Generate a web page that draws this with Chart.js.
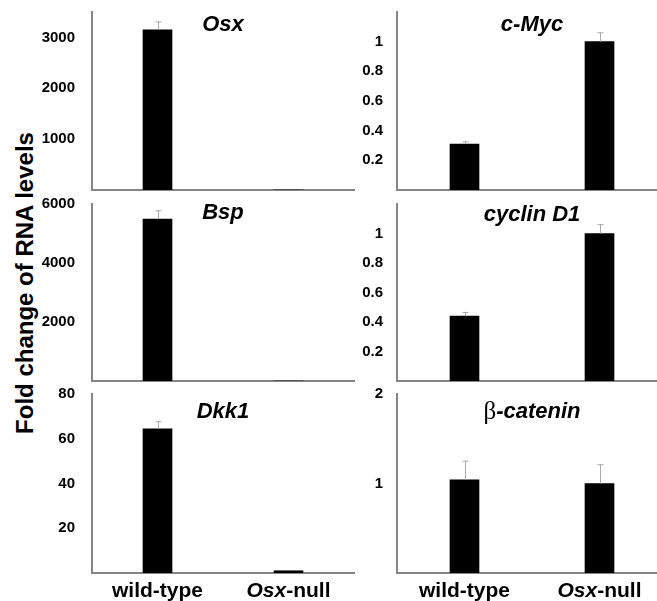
<!DOCTYPE html>
<html>
<head>
<meta charset="utf-8">
<script src="https://cdn.jsdelivr.net/npm/chart.js@4/dist/chart.umd.min.js"></script>
<style>
  html, body { margin: 0; padding: 0; background: #fff; overflow: hidden; }
  body { width: 657px; height: 601px; position: relative; }
  .panel { position: absolute; }
  #ytitle {
    position: absolute; left: 25px; top: 283px;
    transform: translate(-50%, -50%) rotate(-90deg);
    font: bold 24px "Liberation Sans", Arial, sans-serif;
    white-space: nowrap; color: #000;
  }
</style>
</head>
<body>
<div id="ytitle">Fold change of RNA levels</div>
<canvas id="c-osx" class="panel"></canvas>
<canvas id="c-cmyc" class="panel"></canvas>
<canvas id="c-bsp" class="panel"></canvas>
<canvas id="c-cyclin" class="panel"></canvas>
<canvas id="c-dkk1" class="panel"></canvas>
<canvas id="c-bcat" class="panel"></canvas>
<script>
// categories
const groups = ['wild-type', 'Osx-null'];

// values (fold change) and upper error bars
const osxValues = [3150, 1];
const osxErrors = [155, 0];
const bspValues = [5490, 1];
const bspErrors = [280, 0];
const dkk1Values = [64.4, 1];
const dkk1Errors = [3.2, 0];
const cMycValues = [0.31, 1.0];
const cMycErrors = [0.015, 0.06];
const cyclinValues = [0.44, 1.0];
const cyclinErrors = [0.025, 0.06];
const bCatValues = [1.04, 1.0];
const bCatErrors = [0.21, 0.21];

// tick labels and axis tops
const osxTicks = [1000, 2000, 3000];
const bspTicks = [2000, 4000, 6000];
const dkk1Ticks = [20, 40, 60, 80];
const cMycTicks = [0.2, 0.4, 0.6, 0.8, 1];
const cyclinTicks = [0.2, 0.4, 0.6, 0.8, 1];
const bCatTicks = [1, 2];
const axisMax = { osx: 3500, bsp: 6000, dkk1: 80, cmyc: 1.2, cyclin: 1.2, bcat: 2 };

const SANS = '"Liberation Sans", Arial, sans-serif';
const AXIS_GREY = '#858585';

// error bars, drawn above each bar
const errorBarPlugin = {
  id: 'errorBars',
  afterDatasetsDraw(chart) {
    const errs = chart.options.plugins.errorBars.errors;
    const y = chart.scales.y;
    const meta = chart.getDatasetMeta(0);
    const ctx = chart.ctx;
    ctx.save();
    ctx.strokeStyle = '#a8a8a8';
    ctx.lineWidth = 1;
    meta.data.forEach((bar, i) => {
      if (!errs[i]) return;
      const v = chart.data.datasets[0].data[i];
      const x = Math.round(bar.x) + 0.5;
      const top = y.getPixelForValue(v + errs[i]);
      ctx.beginPath();
      ctx.moveTo(x, y.getPixelForValue(v));
      ctx.lineTo(x, top);
      ctx.moveTo(x - 3, top);
      ctx.lineTo(x + 3, top);
      ctx.stroke();
    });
    ctx.restore();
  }
};

// gene name inside the plot, and group names under the bottom row
const labelPlugin = {
  id: 'panelText',
  afterDraw(chart) {
    const o = chart.options.plugins.panelText;
    const a = chart.chartArea;
    const ctx = chart.ctx;
    ctx.save();
    ctx.fillStyle = '#000';
    ctx.textBaseline = 'middle';
    const drawParts = (parts, cx, cy) => {
      let w = 0;
      parts.forEach(p => { ctx.font = p.font; w += ctx.measureText(p.text).width; });
      let x = cx - w / 2;
      ctx.textAlign = 'left';
      parts.forEach(p => { ctx.font = p.font; ctx.fillText(p.text, x, cy); x += ctx.measureText(p.text).width; });
    };
    drawParts(o.title, (a.left + a.right) / 2, a.top + o.titleOffset);
    if (o.showGroups) {
      const xs = chart.scales.x;
      const groupParts = [
        [{ text: 'wild-type', font: 'bold 21px ' + SANS }],
        [{ text: 'Osx', font: 'italic bold 21px ' + SANS }, { text: '-null', font: 'bold 21px ' + SANS }]
      ];
      groups.forEach((g, i) => drawParts(groupParts[i], xs.getPixelForValue(i), a.bottom + 18));
    }
    ctx.restore();
  }
};

function makePanel(id, box, values, errors, ticks, max, title, titleOffset, showGroups) {
  const el = document.getElementById(id);
  el.width = box.width;
  el.height = box.height;
  el.style.left = box.left + 'px';
  el.style.top = box.top + 'px';
  el.style.width = box.width + 'px';
  el.style.height = box.height + 'px';
  return new Chart(el, {
    type: 'bar',
    data: {
      labels: groups,
      datasets: [{
        data: values,
        backgroundColor: '#000',
        borderWidth: 0,
        barThickness: 29
      }]
    },
    options: {
      responsive: false,
      animation: false,
      devicePixelRatio: 1,
      layout: { padding: { top: 10, bottom: box.padBottom, left: 0, right: box.padRight } },
      plugins: {
        legend: { display: false },
        tooltip: { enabled: false },
        errorBars: { errors: errors },
        panelText: { title: title, titleOffset: titleOffset, showGroups: showGroups }
      },
      scales: {
        x: {
          grid: { display: false },
          ticks: { display: false },
          border: { display: true, color: AXIS_GREY, width: 2 },
          afterFit: s => { s.height = 0; s.paddingLeft = 0; s.paddingRight = 0; }
        },
        y: {
          min: 0,
          max: max,
          grid: { display: false },
          border: { display: true, color: AXIS_GREY, width: 2 },
          ticks: {
            color: '#000',
            padding: box.tickPad,
            font: { family: SANS, size: 15, weight: 'bold' },
            callback: v => String(v)
          },
          afterBuildTicks: s => { s.ticks = ticks.map(v => ({ value: v })); },
          // fixed axis width; the labels fit inside the layout padding
          afterFit: s => { s.width = box.axisWidth; s.paddingTop = 0; s.paddingBottom = 0; }
        }
      }
    },
    plugins: [errorBarPlugin, labelPlugin]
  });
}

const titleFont = 'italic bold 22px ' + SANS;
const leftCol = { left: 40, width: 320, axisWidth: 52, padRight: 6, tickPad: 9 };
const rightCol = { left: 360, width: 307, axisWidth: 37, padRight: 0, tickPad: 6 };
const row1 = { top: 2, height: 192, padBottom: 4 };
const row2 = { top: 194, height: 191, padBottom: 4 };
const row3 = { top: 384, height: 217, padBottom: 28 };

makePanel('c-osx', Object.assign({}, leftCol, row1), osxValues, osxErrors, osxTicks, axisMax.osx,
  [{ text: 'Osx', font: titleFont }], 13, false);
makePanel('c-cmyc', Object.assign({}, rightCol, row1), cMycValues, cMycErrors, cMycTicks, axisMax.cmyc,
  [{ text: 'c-Myc', font: titleFont }], 13, false);
makePanel('c-bsp', Object.assign({}, leftCol, row2), bspValues, bspErrors, bspTicks, axisMax.bsp,
  [{ text: 'Bsp', font: titleFont }], 9, false);
makePanel('c-cyclin', Object.assign({}, rightCol, row2), cyclinValues, cyclinErrors, cyclinTicks, axisMax.cyclin,
  [{ text: 'cyclin D1', font: titleFont }], 11, false);
makePanel('c-dkk1', Object.assign({}, leftCol, row3), dkk1Values, dkk1Errors, dkk1Ticks, axisMax.dkk1,
  [{ text: 'Dkk1', font: titleFont }], 18, true);
makePanel('c-bcat', Object.assign({}, rightCol, row3), bCatValues, bCatErrors, bCatTicks, axisMax.bcat,
  [{ text: 'β', font: '25px "Liberation Serif", "Times New Roman", serif' }, { text: '-catenin', font: titleFont }], 18, true);
</script>
</body>
</html>
